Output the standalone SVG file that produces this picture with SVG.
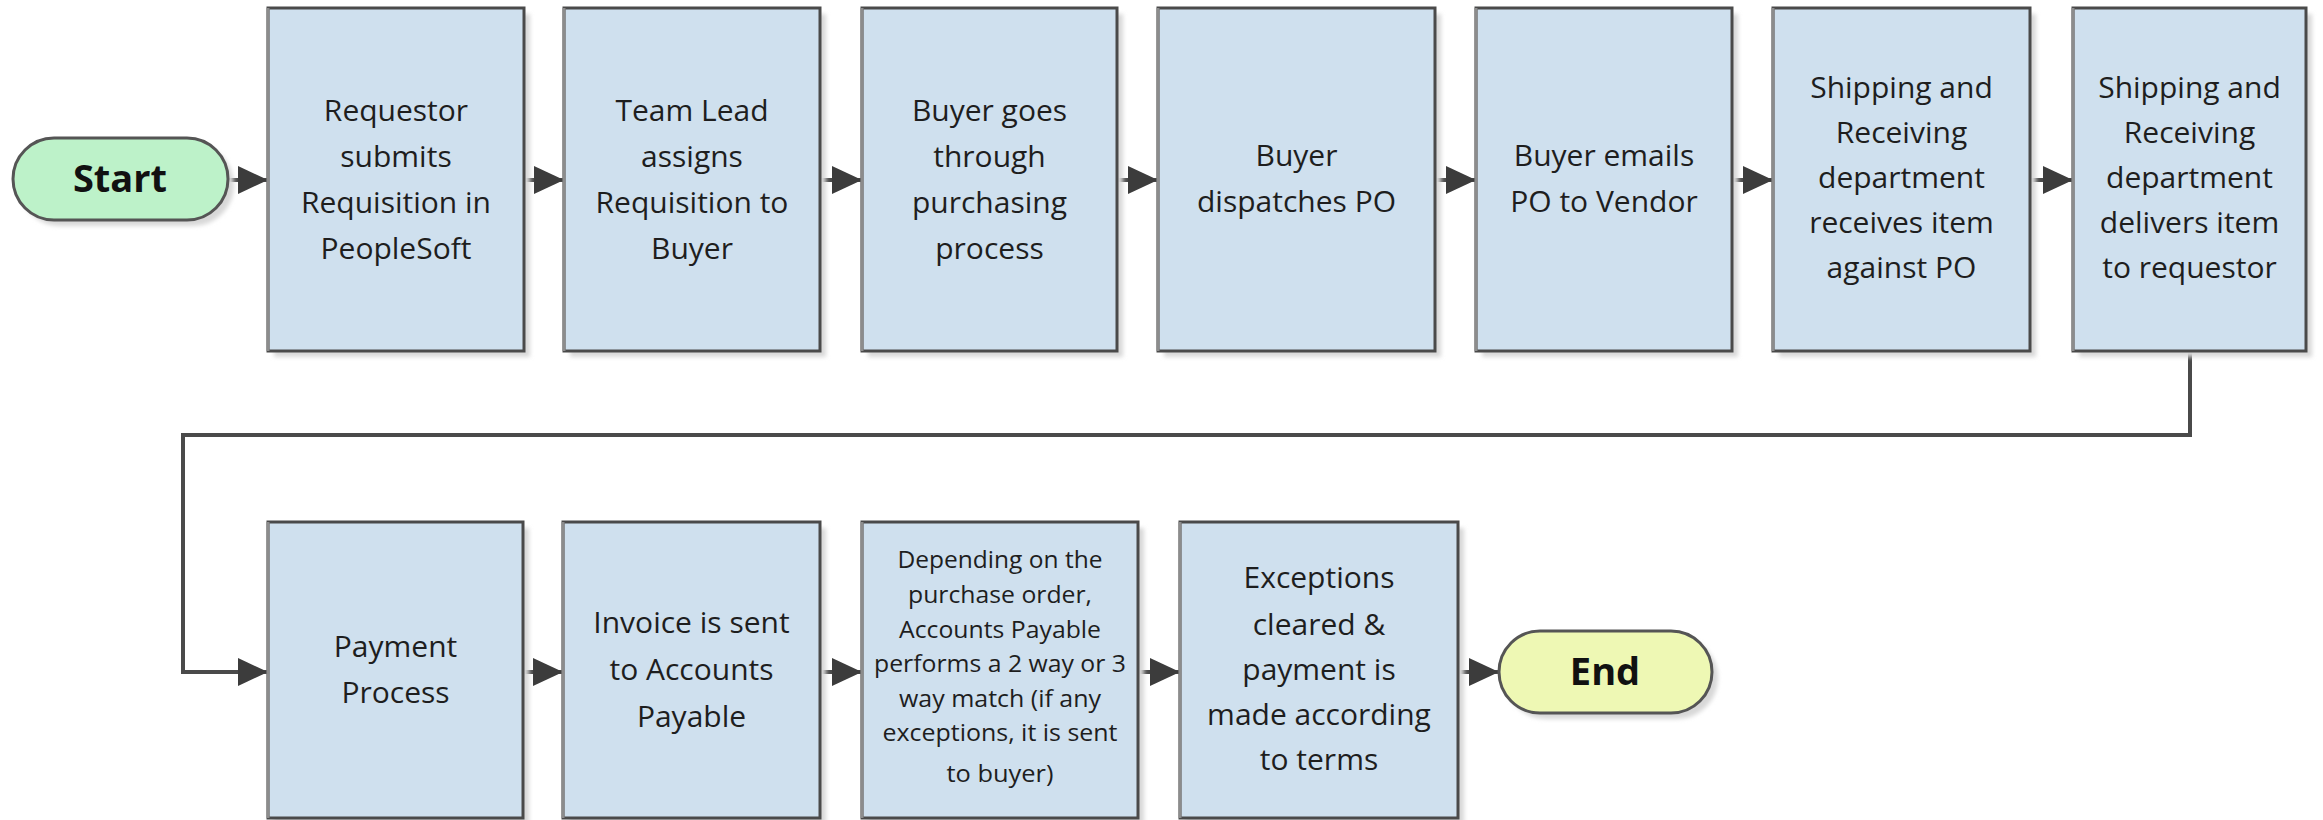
<svg xmlns="http://www.w3.org/2000/svg" width="2323" height="820" viewBox="0 0 2323 820">
<style>
.box{fill:#cfe0ee;stroke:#4a4a4a;stroke-width:3}
.edge{stroke:#8c8c8c;stroke-width:3}
.shadow{fill:#d8d8d8;filter:url(#blur)}
.t{font-family:"Open Sans","Noto Sans","DejaVu Sans",sans-serif;font-size:30px;fill:#1e1e1e;text-anchor:middle}
.s{font-family:"Open Sans","Noto Sans","DejaVu Sans",sans-serif;font-size:24px;fill:#1e1e1e;text-anchor:middle}
.b{font-family:"Open Sans","Noto Sans","DejaVu Sans",sans-serif;font-size:38px;font-weight:bold;fill:#111;text-anchor:middle}
.conn{fill:none;stroke:#4a4a4a;stroke-width:4;marker-end:url(#arr)}
</style>
<defs>
<filter id="blur" x="-10%" y="-10%" width="120%" height="120%"><feGaussianBlur stdDeviation="2"/></filter>
<marker id="arr" markerUnits="userSpaceOnUse" markerWidth="30" markerHeight="30" refX="30" refY="15" orient="auto">
<path d="M0,1 L30,15 L0,29 z" fill="#3c3c3c"/>
</marker>
</defs>
<rect width="2323" height="820" fill="#ffffff"/>

<g id="connectors">
<path class="conn" d="M228,180 L268,180"/>
<path class="conn" d="M524,180 L564,180"/>
<path class="conn" d="M820,180 L862,180"/>
<path class="conn" d="M1117,180 L1158,180"/>
<path class="conn" d="M1435,180 L1476,180"/>
<path class="conn" d="M1732,180 L1773,180"/>
<path class="conn" d="M2030,180 L2073,180"/>
<path class="conn" d="M2190,351 L2190,435 L183,435 L183,672 L268,672"/>
<path class="conn" d="M523,672 L563,672"/>
<path class="conn" d="M820,672 L862,672"/>
<path class="conn" d="M1138,672 L1180,672"/>
<path class="conn" d="M1458,672 L1499,672"/>
</g>

<g id="start">
<rect class="shadow" x="19" y="144" width="215" height="82" rx="41"/>
<rect x="13" y="138" width="215" height="82" rx="41" fill="#bdf2c9" stroke="#555" stroke-width="3"/>
<text class="b" x="120" y="192">Start</text>
</g>

<g id="n1">
<rect class="shadow" x="274" y="14" width="256" height="343"/>
<rect class="box" x="268" y="8" width="256" height="343"/>
<line class="edge" x1="268" y1="8" x2="268" y2="351"/>
<text class="t" x="396" y="121">Requestor</text>
<text class="t" x="396" y="167">submits</text>
<text class="t" x="396" y="213">Requisition in</text>
<text class="t" x="396" y="259">PeopleSoft</text>
</g>

<g id="n2">
<rect class="shadow" x="570" y="14" width="256" height="343"/>
<rect class="box" x="564" y="8" width="256" height="343"/>
<line class="edge" x1="564" y1="8" x2="564" y2="351"/>
<text class="t" x="692" y="121">Team Lead</text>
<text class="t" x="692" y="167">assigns</text>
<text class="t" x="692" y="213">Requisition to</text>
<text class="t" x="692" y="259">Buyer</text>
</g>

<g id="n3">
<rect class="shadow" x="868" y="14" width="255" height="343"/>
<rect class="box" x="862" y="8" width="255" height="343"/>
<line class="edge" x1="862" y1="8" x2="862" y2="351"/>
<text class="t" x="989.5" y="121">Buyer goes</text>
<text class="t" x="989.5" y="167">through</text>
<text class="t" x="989.5" y="213">purchasing</text>
<text class="t" x="989.5" y="259">process</text>
</g>

<g id="n4">
<rect class="shadow" x="1164" y="14" width="277" height="343"/>
<rect class="box" x="1158" y="8" width="277" height="343"/>
<line class="edge" x1="1158" y1="8" x2="1158" y2="351"/>
<text class="t" x="1296.5" y="166">Buyer</text>
<text class="t" x="1296.5" y="212">dispatches PO</text>
</g>

<g id="n5">
<rect class="shadow" x="1482" y="14" width="256" height="343"/>
<rect class="box" x="1476" y="8" width="256" height="343"/>
<line class="edge" x1="1476" y1="8" x2="1476" y2="351"/>
<text class="t" x="1604" y="166">Buyer emails</text>
<text class="t" x="1604" y="212">PO to Vendor</text>
</g>

<g id="n6">
<rect class="shadow" x="1779" y="14" width="257" height="343"/>
<rect class="box" x="1773" y="8" width="257" height="343"/>
<line class="edge" x1="1773" y1="8" x2="1773" y2="351"/>
<text class="t" x="1901.5" y="98">Shipping and</text>
<text class="t" x="1901.5" y="143">Receiving</text>
<text class="t" x="1901.5" y="188">department</text>
<text class="t" x="1901.5" y="233">receives item</text>
<text class="t" x="1901.5" y="278">against PO</text>
</g>

<g id="n7">
<rect class="shadow" x="2079" y="14" width="233" height="343"/>
<rect class="box" x="2073" y="8" width="233" height="343"/>
<line class="edge" x1="2073" y1="8" x2="2073" y2="351"/>
<text class="t" x="2189.5" y="98">Shipping and</text>
<text class="t" x="2189.5" y="143">Receiving</text>
<text class="t" x="2189.5" y="188">department</text>
<text class="t" x="2189.5" y="233">delivers item</text>
<text class="t" x="2189.5" y="278">to requestor</text>
</g>

<g id="n8">
<rect class="shadow" x="274" y="528" width="255" height="296"/>
<rect class="box" x="268" y="522" width="255" height="296"/>
<line class="edge" x1="268" y1="522" x2="268" y2="818"/>
<text class="t" x="395.5" y="657">Payment</text>
<text class="t" x="395.5" y="703">Process</text>
</g>

<g id="n9">
<rect class="shadow" x="569" y="528" width="257" height="296"/>
<rect class="box" x="563" y="522" width="257" height="296"/>
<line class="edge" x1="563" y1="522" x2="563" y2="818"/>
<text class="t" x="691.5" y="633">Invoice is sent</text>
<text class="t" x="691.5" y="680">to Accounts</text>
<text class="t" x="691.5" y="727">Payable</text>
</g>

<g id="n10">
<rect class="shadow" x="868" y="528" width="276" height="296"/>
<rect class="box" x="862" y="522" width="276" height="296"/>
<line class="edge" x1="862" y1="522" x2="862" y2="818"/>
<text class="s" x="1000" y="568" textLength="205" lengthAdjust="spacingAndGlyphs">Depending on the</text>
<text class="s" x="1000" y="603" textLength="184" lengthAdjust="spacingAndGlyphs">purchase order,</text>
<text class="s" x="1000" y="638" textLength="202" lengthAdjust="spacingAndGlyphs">Accounts Payable</text>
<text class="s" x="1000" y="672" textLength="252" lengthAdjust="spacingAndGlyphs">performs a 2 way or 3</text>
<text class="s" x="1000" y="707" textLength="202" lengthAdjust="spacingAndGlyphs">way match (if any</text>
<text class="s" x="1000" y="741" textLength="235" lengthAdjust="spacingAndGlyphs">exceptions, it is sent</text>
<text class="s" x="1000" y="782" textLength="107" lengthAdjust="spacingAndGlyphs">to buyer)</text>
</g>

<g id="n11">
<rect class="shadow" x="1186" y="528" width="278" height="296"/>
<rect class="box" x="1180" y="522" width="278" height="296"/>
<line class="edge" x1="1180" y1="522" x2="1180" y2="818"/>
<text class="t" x="1319" y="588">Exceptions</text>
<text class="t" x="1319" y="635">cleared &amp;</text>
<text class="t" x="1319" y="680">payment is</text>
<text class="t" x="1319" y="725">made according</text>
<text class="t" x="1319" y="770">to terms</text>
</g>

<g id="end">
<rect class="shadow" x="1505" y="637" width="213" height="82" rx="41"/>
<rect x="1499" y="631" width="213" height="82" rx="41" fill="#eef8b4" stroke="#555" stroke-width="3"/>
<text class="b" x="1605" y="685">End</text>
</g>
</svg>
